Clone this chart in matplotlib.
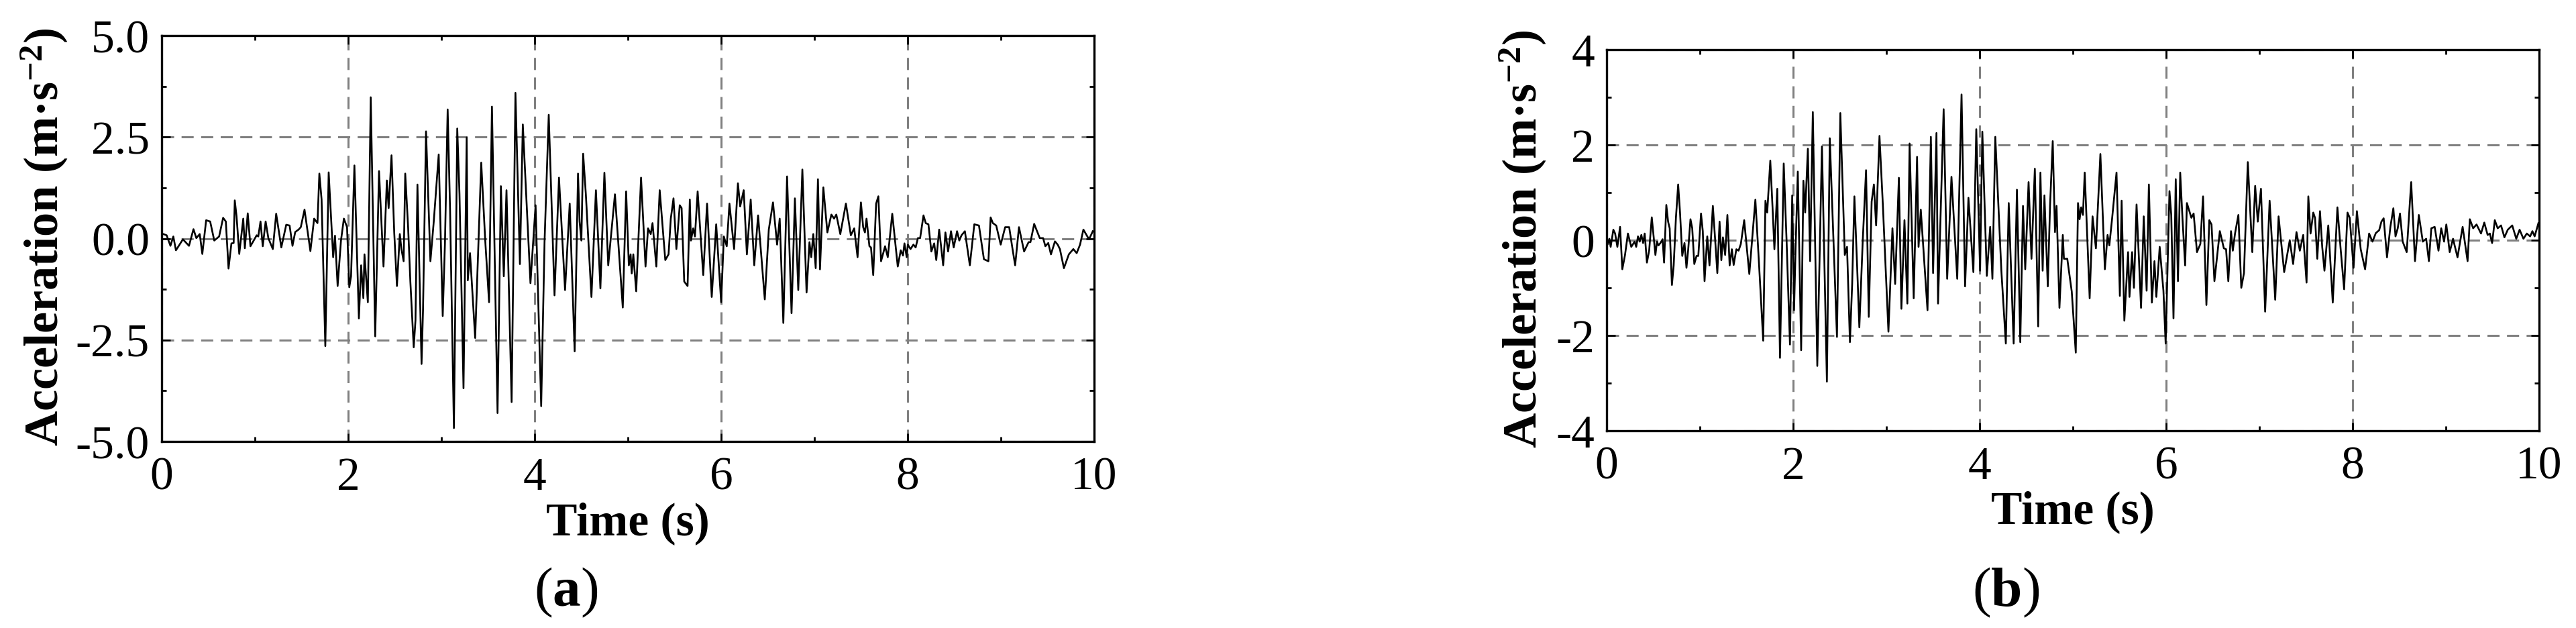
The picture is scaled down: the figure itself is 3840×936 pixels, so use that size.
import matplotlib
matplotlib.use("Agg")
import matplotlib.pyplot as plt
from matplotlib.ticker import MultipleLocator, FormatStrFormatter

plt.rcParams['font.family'] = ['Liberation Serif', 'DejaVu Serif']
plt.rcParams['mathtext.fontset'] = 'custom'
plt.rcParams['mathtext.rm'] = 'Liberation Serif'
plt.rcParams['mathtext.bf'] = 'Liberation Serif:bold'
plt.rcParams['mathtext.it'] = 'Liberation Serif:italic'
plt.rcParams['lines.scale_dashes'] = False

# ---------------- data: panel (a) ----------------
time_a = [0.017, 0.053, 0.094, 0.125, 0.153, 0.228, 0.293, 0.341, 0.372, 0.408,
          0.436, 0.477, 0.520, 0.564, 0.616, 0.659, 0.688, 0.717, 0.748, 0.772,
          0.784, 0.803, 0.832, 0.875, 0.892, 0.923, 0.952, 1.019, 1.036, 1.060,
          1.084, 1.115, 1.144, 1.192, 1.228, 1.283, 1.336, 1.372, 1.403, 1.432,
          1.468, 1.492, 1.532, 1.595, 1.635, 1.671, 1.691, 1.715, 1.755, 1.791,
          1.839, 1.859, 1.887, 1.923, 1.954, 1.988, 2.012, 2.031, 2.067, 2.115,
          2.139, 2.163, 2.175, 2.211, 2.242, 2.290, 2.331, 2.379, 2.415, 2.434,
          2.465, 2.494, 2.523, 2.554, 2.571, 2.595, 2.612, 2.643, 2.667, 2.703,
          2.722, 2.743, 2.763, 2.787, 2.803, 2.835, 2.882, 2.918, 2.971, 3.014,
          3.038, 3.067, 3.093, 3.134, 3.170, 3.194, 3.237, 3.271, 3.283, 3.307,
          3.362, 3.427, 3.470, 3.511, 3.542, 3.602, 3.638, 3.669, 3.698, 3.753,
          3.794, 3.842, 3.873, 3.955, 4.010, 4.070, 4.106, 4.151, 4.213, 4.261,
          4.326, 4.376, 4.429, 4.465, 4.482, 4.501, 4.520, 4.549, 4.609, 4.657,
          4.705, 4.748, 4.789, 4.861, 4.945, 4.981, 5.010, 5.029, 5.041, 5.058,
          5.089, 5.141, 5.189, 5.216, 5.245, 5.264, 5.305, 5.341, 5.401, 5.436,
          5.460, 5.489, 5.520, 5.556, 5.576, 5.604, 5.640, 5.664, 5.676, 5.700,
          5.719, 5.748, 5.808, 5.849, 5.899, 5.947, 6.000, 6.029, 6.060, 6.089,
          6.139, 6.180, 6.204, 6.242, 6.276, 6.317, 6.355, 6.396, 6.468, 6.511,
          6.556, 6.600, 6.628, 6.667, 6.707, 6.755, 6.791, 6.827, 6.871, 6.916,
          6.947, 6.966, 6.988, 7.014, 7.038, 7.060, 7.096, 7.139, 7.182, 7.211,
          7.235, 7.278, 7.338, 7.391, 7.427, 7.463, 7.499, 7.523, 7.542, 7.559,
          7.590, 7.607, 7.631, 7.662, 7.686, 7.715, 7.758, 7.787, 7.835, 7.894,
          7.926, 7.950, 7.966, 7.990, 8.002, 8.031, 8.062, 8.086, 8.110, 8.134,
          8.170, 8.194, 8.223, 8.254, 8.285, 8.307, 8.338, 8.355, 8.381, 8.405,
          8.434, 8.465, 8.494, 8.530, 8.554, 8.578, 8.614, 8.667, 8.715, 8.765,
          8.818, 8.866, 8.890, 8.914, 8.950, 8.998, 9.046, 9.089, 9.125, 9.153,
          9.194, 9.249, 9.297, 9.317, 9.357, 9.417, 9.453, 9.477, 9.508, 9.537,
          9.580, 9.609, 9.633, 9.676, 9.729, 9.777, 9.813, 9.849, 9.885, 9.945,
          9.986]
accel_a = [0.11, 0.08, -0.18, 0.05, -0.29, -0.02, -0.18, 0.23, 0.01, 0.11,
           -0.38, 0.45, 0.42, -0.05, 0.05, 0.51, 0.42, -0.74, -0.12, -0.11,
           0.94, 0.55, -0.38, 0.49, -0.24, 0.62, -0.19, 0.08, 0.05, 0.42,
           -0.19, 0.42, 0.01, -0.26, 0.61, -0.22, 0.34, 0.32, -0.18, 0.16,
           0.22, 0.28, 0.71, -0.31, 0.49, 0.38, 1.60, 0.96, -2.65, 1.63,
           -0.46, 0.07, -1.17, -0.05, 0.49, 0.28, -1.20, -0.93, 1.80, -1.97,
           -0.66, -1.47, -0.39, -1.57, 3.48, -2.41, 1.66, -0.69, 1.43, 0.75,
           2.05, 0.15, -1.17, 0.11, -0.26, -0.56, 1.60, 0.28, -1.06, -2.68,
           -2.01, 1.33, -0.66, -3.09, -1.74, 2.64, -0.56, 0.42, 2.07, -1.91,
           -0.12, 3.18, 0.69, -4.67, 2.71, 1.09, -3.69, 2.49, -1.03, -0.36,
           -2.45, 1.87, -0.05, -1.57, 3.25, -4.30, 1.29, -0.93, 1.19, -4.03,
           3.59, -0.63, 2.81, -1.10, 0.82, -4.13, -0.09, 3.05, -1.40, 1.50,
           -1.27, 0.86, -2.78, 1.60, 0.42, -0.05, 2.09, 1.09, -1.44, 1.19,
           -1.23, 1.62, -0.66, 1.09, -1.70, 1.16, -0.66, -0.39, -0.86, -0.39,
           -1.30, 1.50, -0.69, 0.25, 0.11, 0.38, -0.69, 1.19, -0.53, -0.39,
           0.49, 0.99, -0.26, 0.82, 0.75, -1.06, -1.17, 0.96, -0.05, 0.25,
           0.05, 1.16, -0.90, 0.86, -1.44, 0.35, -1.57, 0.05, -0.19, 0.86,
           -0.26, 1.36, 0.79, 1.19, -0.39, 0.96, -0.66, 0.57, -1.50, 0.22,
           0.89, -0.15, 0.49, -2.08, 1.53, -1.84, 0.99, -1.27, 1.70, -1.33,
           -0.09, -0.46, 0.11, -0.73, 1.46, -0.76, 1.26, 0.15, 0.59, 0.49,
           0.59, 0.11, 0.86, 0.08, 0.25, -0.46, 0.89, 0.28, 0.15, 0.49,
           -0.19, -0.22, -0.90, 0.86, 1.04, -0.56, -0.19, -0.46, 0.61, -0.69,
           -0.29, -0.42, -0.12, -0.46, -0.15, -0.26, -0.15, -0.22, 0.01, 0.01,
           0.57, 0.38, 0.35, -0.32, -0.12, -0.53, 0.22, -0.12, -0.66, 0.15,
           -0.32, 0.18, -0.22, 0.18, -0.05, 0.08, 0.18, -0.66, 0.35, 0.32,
           -0.51, -0.56, 0.52, 0.38, 0.32, -0.15, 0.28, 0.28, -0.26, -0.66,
           0.28, -0.32, -0.09, -0.09, 0.36, 0.01, 0.01, -0.19, -0.11, -0.39,
           -0.07, -0.15, -0.26, -0.73, -0.39, -0.26, -0.36, -0.15, 0.22, -0.02,
           0.18]

# ---------------- data: panel (b) ----------------
time_b = [0.012, 0.029, 0.043, 0.072, 0.091, 0.115, 0.144, 0.168, 0.197, 0.228,
          0.264, 0.300, 0.317, 0.336, 0.355, 0.372, 0.391, 0.408, 0.432, 0.456,
          0.484, 0.523, 0.540, 0.556, 0.576, 0.600, 0.616, 0.640, 0.659, 0.676,
          0.700, 0.719, 0.743, 0.767, 0.787, 0.811, 0.835, 0.856, 0.875, 0.899,
          0.918, 0.940, 0.964, 0.983, 1.012, 1.031, 1.050, 1.079, 1.103, 1.139,
          1.163, 1.187, 1.211, 1.230, 1.247, 1.271, 1.295, 1.319, 1.343, 1.362,
          1.391, 1.415, 1.439, 1.475, 1.530, 1.595, 1.635, 1.679, 1.703, 1.722,
          1.755, 1.779, 1.799, 1.830, 1.859, 1.899, 1.930, 1.966, 1.990, 2.010,
          2.026, 2.050, 2.086, 2.110, 2.129, 2.158, 2.182, 2.211, 2.259, 2.309,
          2.362, 2.393, 2.470, 2.506, 2.554, 2.578, 2.609, 2.633, 2.657, 2.686,
          2.710, 2.746, 2.782, 2.811, 2.842, 2.866, 2.890, 2.926, 2.962, 3.022,
          3.065, 3.094, 3.134, 3.161, 3.194, 3.225, 3.249, 3.293, 3.329, 3.345,
          3.369, 3.441, 3.477, 3.501, 3.537, 3.554, 3.614, 3.652, 3.698, 3.760,
          3.806, 3.844, 3.880, 3.933, 3.964, 4.005, 4.029, 4.077, 4.113, 4.137,
          4.168, 4.233, 4.281, 4.312, 4.365, 4.400, 4.436, 4.465, 4.489, 4.525,
          4.556, 4.592, 4.628, 4.652, 4.676, 4.695, 4.731, 4.755, 4.784, 4.808,
          4.825, 4.856, 4.892, 4.904, 4.940, 4.988, 5.031, 5.055, 5.072, 5.089,
          5.108, 5.127, 5.151, 5.180, 5.211, 5.247, 5.295, 5.343, 5.372, 5.391,
          5.420, 5.468, 5.504, 5.523, 5.552, 5.592, 5.607, 5.635, 5.655, 5.683,
          5.731, 5.760, 5.791, 5.815, 5.847, 5.875, 5.895, 5.931, 5.971, 5.995,
          6.036, 6.055, 6.079, 6.103, 6.127, 6.151, 6.175, 6.204, 6.223, 6.271,
          6.295, 6.331, 6.367, 6.396, 6.432, 6.463, 6.487, 6.518, 6.576, 6.619,
          6.643, 6.667, 6.696, 6.715, 6.739, 6.775, 6.806, 6.835, 6.876, 6.924,
          6.955, 6.983, 7.017, 7.062, 7.110, 7.170, 7.206, 7.266, 7.326, 7.362,
          7.398, 7.434, 7.470, 7.506, 7.525, 7.549, 7.578, 7.597, 7.621, 7.650,
          7.674, 7.698, 7.739, 7.787, 7.837, 7.871, 7.909, 7.945, 7.969, 8.010,
          8.046, 8.087, 8.134, 8.177, 8.213, 8.249, 8.285, 8.309, 8.333, 8.369,
          8.405, 8.437, 8.460, 8.484, 8.508, 8.537, 8.580, 8.628, 8.669, 8.710,
          8.753, 8.789, 8.818, 8.844, 8.880, 8.921, 8.950, 8.981, 9.005, 9.041,
          9.077, 9.125, 9.180, 9.233, 9.257, 9.293, 9.329, 9.377, 9.412, 9.448,
          9.472, 9.496, 9.525, 9.556, 9.592, 9.628, 9.664, 9.712, 9.755, 9.791,
          9.832, 9.868, 9.904, 9.928, 9.952, 9.993]
accel_b = [-0.08, 0.03, -0.14, 0.22, 0.14, -0.14, 0.28, -0.61, -0.31, 0.14,
           -0.14, -0.03, -0.14, 0.08, -0.03, 0.11, -0.06, 0.14, -0.47, -0.22,
           0.48, -0.31, -0.03, -0.11, -0.06, 0.02, -0.47, 0.74, 0.39, 0.25,
           -0.94, -0.53, 0.47, 1.17, 0.58, -0.33, -0.06, -0.58, -0.19, 0.44,
           0.25, -0.50, -0.33, -0.33, 0.56, 0.19, -0.86, 0.08, -0.53, 0.72,
           0.03, -0.69, 0.39, -0.42, 0.06, -0.31, 0.53, -0.53, -0.19, -0.52,
           -0.19, -0.22, -0.08, 0.42, -0.71, 0.85, -0.53, -2.11, 0.83, 0.58,
           1.67, 0.69, -0.19, 1.08, -2.47, 1.61, -0.03, -2.19, 0.94, -1.47,
           -0.19, 1.44, -2.31, 1.25, 0.58, 1.92, -0.44, 2.69, -2.64, 1.97,
           -2.97, 2.14, -2.03, 2.67, -0.31, -0.14, -2.14, -0.92, 0.92, -0.53,
           -1.83, -0.03, 1.47, -1.61, 0.81, 1.17, 0.31, 2.19, 0.75, -1.92,
           0.25, -0.92, 1.31, -1.44, 0.42, -1.33, 2.03, -1.22, 1.75, -0.14,
           0.64, -1.47, 2.17, -0.69, 2.25, -1.33, 2.75, -0.81, 1.33, -0.81,
           3.06, -0.97, 0.89, -0.67, 2.33, -0.64, 2.28, -0.75, 0.28, -0.81,
           2.17, -0.64, -2.17, 0.78, -2.17, 1.06, -2.14, 0.72, -0.61, 1.22,
           -0.39, 1.50, -1.81, 1.42, -0.64, 0.94, -0.97, 0.72, 2.08, 0.17,
           0.72, -1.42, 0.11, -0.39, -0.39, -1.08, -2.36, 0.78, 0.44, 0.69,
           0.53, 1.42, 0.22, -1.22, 0.50, -0.17, 1.81, -0.61, 0.11, -0.11,
           0.44, 1.42, -1.17, 0.83, -1.69, -0.25, -1.19, -0.25, -1.00, 0.75,
           -1.42, 0.50, -1.06, 1.17, -1.31, -0.44, -1.19, -0.14, -1.06, -2.17,
           1.03, 0.53, -1.64, 1.28, -0.86, 1.42, 0.47, -0.53, 0.78, 0.47,
           0.56, -0.25, -0.08, 0.92, -1.36, 0.42, 0.33, -0.86, 0.19, -0.17,
           -0.19, -0.86, 0.19, -0.22, 0.14, 0.53, -1.00, -0.69, 1.64, -0.25,
           1.14, 0.39, 1.08, -1.50, 0.83, -1.25, 0.50, -0.67, 0.00, -0.50,
           0.17, -0.22, 0.11, -0.89, 0.92, 0.14, 0.58, 0.47, -0.39, 0.61,
           -0.14, -0.64, 0.31, -1.31, 0.69, -0.17, -1.03, 0.58, 0.47, -0.58,
           0.61, -0.19, -0.61, 0.14, -0.03, 0.15, 0.21, 0.39, 0.46, -0.36,
           0.28, 0.67, 0.08, 0.25, 0.56, -0.03, -0.25, 1.22, -0.44, 0.53,
           -0.03, 0.03, -0.44, 0.25, 0.28, -0.22, 0.25, -0.03, 0.33, -0.25,
           0.03, -0.36, 0.28, -0.44, 0.44, 0.25, 0.33, 0.14, 0.37, 0.11,
           0.14, -0.06, 0.42, 0.25, 0.31, 0.06, 0.22, 0.31, 0.03, 0.22,
           0.03, 0.14, 0.08, 0.19, 0.08, 0.36]

x_ticks = [0, 2, 4, 6, 8, 10]
y_ticks_a = [-5.0, -2.5, 0.0, 2.5, 5.0]
y_ticks_b = [-4, -2, 0, 2, 4]

W, H = 3840, 937
fig = plt.figure(figsize=(W / 100, H / 100), dpi=100)

FS = 50
GRID_KW = dict(color='#808080', linewidth=2.2, linestyle=(0, (13, 8)))


def style_axes(ax, yticks, yminor, fmt):
    ax.set_xlim(0, 10)
    ax.set_ylim(yticks[0], yticks[-1])
    ax.set_xticks(x_ticks)
    ax.xaxis.set_minor_locator(MultipleLocator(1))
    ax.set_yticks(yticks)
    ax.yaxis.set_minor_locator(MultipleLocator(yminor))
    ax.yaxis.set_major_formatter(FormatStrFormatter(fmt))
    ax.tick_params(which='both', direction='in', top=True, right=True,
                   labelsize=FS, width=2.0)
    ax.tick_params(which='major', length=9)
    ax.tick_params(which='minor', length=5)
    ax.tick_params(axis='x', which='major', pad=16)
    ax.tick_params(axis='y', which='major', pad=13)
    for s in ax.spines.values():
        s.set_linewidth(2.4)
    ax.set_axisbelow(True)
    ax.grid(True, which='major', **GRID_KW)


# panel (a)
ax_a = fig.add_axes([241 / W, 1 - 659 / H, 1390 / W, 605 / H])
ax_a.plot(time_a, accel_a, color='black', linewidth=1.9)
style_axes(ax_a, y_ticks_a, 1.25, '%.1f')

# panel (b)
ax_b = fig.add_axes([2395 / W, 1 - 643 / H, 1390 / W, 568 / H])
ax_b.plot(time_b, accel_b, color='black', linewidth=1.9)
style_axes(ax_b, y_ticks_b, 1, '%d')

ylab = 'Acceleration (m\u00b7s$^{\\mathbf{-2}}$)'
YFS = 52
fig.text(66 / W, 1 - 354 / H, ylab, rotation=90, ha='center', va='center',
         fontsize=YFS, fontweight='bold')
fig.text(2270 / W, 1 - 357 / H, ylab, rotation=90, ha='center', va='center',
         fontsize=YFS, fontweight='bold')

fig.text(936 / W, 1 - 797 / H, 'Time (s)', ha='center', va='baseline',
         fontsize=FS, fontweight='bold')
fig.text(3090 / W, 1 - 780 / H, 'Time (s)', ha='center', va='baseline',
         fontsize=FS, fontweight='bold')

fig.text(844 / W, 1 - 903 / H, '($\\mathbf{a}$)', ha='center', va='baseline',
         fontsize=60)
fig.text(2990 / W, 1 - 903 / H, '($\\mathbf{b}$)', ha='center', va='baseline',
         fontsize=60)

fig.savefig('out.png', dpi=100, facecolor='white')
